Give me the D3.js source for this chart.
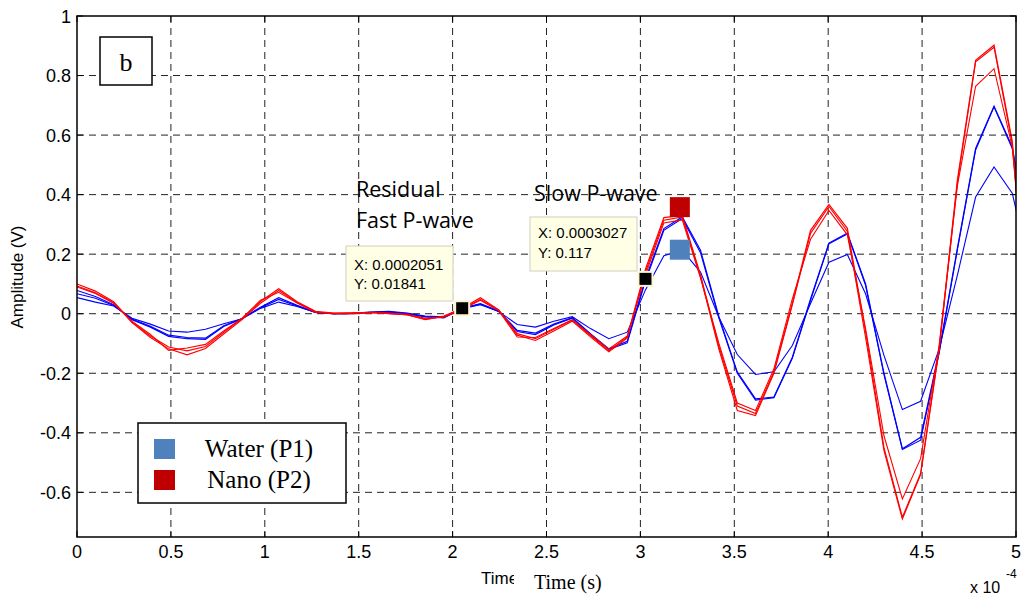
<!DOCTYPE html>
<html><head><meta charset="utf-8">
<script src="https://cdn.jsdelivr.net/npm/d3@7"></script>
<style>body{margin:0;background:#fff;} svg{display:block;}</style>
</head><body>
<svg id="c" width="1025" height="599"></svg>
<script>
// time in units of 1e-4 s
const times = [0,0.098,0.195,0.293,0.391,0.488,0.586,0.684,0.781,0.879,0.977,1.074,1.172,1.27,1.367,1.465,1.563,1.66,1.758,1.855,1.953,2.051,2.148,2.246,2.344,2.441,2.539,2.637,2.734,2.832,2.93,3.027,3.125,3.223,3.32,3.418,3.516,3.613,3.711,3.809,3.906,4.004,4.102,4.199,4.297,4.395,4.492,4.59,4.688,4.785,4.883,4.98,5.078];
const nano1 = [0.10,0.076,0.040,-0.028,-0.075,-0.112,-0.125,-0.110,-0.062,-0.017,0.041,0.084,0.040,0.008,0.002,0.003,0.005,0.0,-0.003,-0.02,-0.008,0.018,0.054,0.013,-0.067,-0.084,-0.052,-0.022,-0.073,-0.125,-0.078,0.15,0.323,0.33,0.13,-0.11,-0.31,-0.335,-0.195,0.035,0.28,0.367,0.287,-0.06,-0.45,-0.684,-0.537,-0.12,0.45,0.851,0.902,0.58,-0.15];
const nano2 = [0.093,0.07,0.037,-0.03,-0.08,-0.118,-0.138,-0.117,-0.068,-0.02,0.035,0.078,0.038,0.006,0.0,0.0,0.003,0.002,-0.004,-0.018,-0.01,0.016,0.048,0.012,-0.072,-0.09,-0.058,-0.025,-0.078,-0.128,-0.082,0.14,0.314,0.325,0.125,-0.12,-0.325,-0.342,-0.2,0.03,0.27,0.36,0.276,-0.08,-0.46,-0.69,-0.54,-0.125,0.44,0.846,0.895,0.57,-0.16];
const nano3 = [0.09,0.068,0.035,-0.025,-0.07,-0.123,-0.115,-0.103,-0.058,-0.015,0.045,0.072,0.036,0.004,0.001,0.002,0.004,0.001,-0.002,-0.015,-0.012,0.015,0.045,0.01,-0.078,-0.08,-0.05,-0.02,-0.07,-0.118,-0.075,0.13,0.305,0.315,0.12,-0.10,-0.30,-0.325,-0.185,0.05,0.25,0.347,0.265,-0.05,-0.41,-0.622,-0.487,-0.11,0.43,0.764,0.823,0.56,-0.1];
const water1 = [0.078,0.058,0.03,-0.02,-0.045,-0.076,-0.084,-0.086,-0.043,-0.017,0.022,0.054,0.028,0.005,0.0,0.0,0.005,0.006,0.0,-0.011,-0.012,0.018,0.034,0.009,-0.056,-0.065,-0.035,-0.013,-0.067,-0.118,-0.093,0.117,0.286,0.325,0.213,-0.01,-0.196,-0.286,-0.28,-0.146,0.05,0.237,0.271,0.10,-0.20,-0.454,-0.415,-0.13,0.22,0.555,0.697,0.56,0.21];
const water2 = [0.067,0.052,0.028,-0.018,-0.042,-0.072,-0.08,-0.082,-0.04,-0.016,0.02,0.048,0.026,0.004,0.0,0.001,0.004,0.005,0.0,-0.01,-0.014,0.017,0.03,0.008,-0.06,-0.07,-0.038,-0.015,-0.07,-0.12,-0.098,0.11,0.28,0.32,0.205,-0.015,-0.2,-0.29,-0.282,-0.15,0.045,0.235,0.268,0.095,-0.205,-0.456,-0.425,-0.135,0.215,0.55,0.695,0.555,0.2];
const water3 = [0.054,0.039,0.026,-0.015,-0.035,-0.058,-0.062,-0.052,-0.034,-0.017,0.018,0.039,0.024,0.004,0.0,0.001,0.006,0.008,0.002,-0.008,-0.01,0.018,0.032,0.007,-0.036,-0.045,-0.025,-0.01,-0.05,-0.084,-0.062,0.08,0.195,0.213,0.14,-0.012,-0.137,-0.204,-0.195,-0.107,0.034,0.173,0.199,0.067,-0.14,-0.322,-0.294,-0.12,0.13,0.392,0.493,0.405,0.135];

const xTicks = [0,0.5,1,1.5,2,2.5,3,3.5,4,4.5,5];
const xTickLabels = ["0","0.5","1","1.5","2","2.5","3","3.5","4","4.5","5"];
const yTicks = [-0.6,-0.4,-0.2,0,0.2,0.4,0.6,0.8,1];
const yTickLabels = ["-0.6","-0.4","-0.2","0","0.2","0.4","0.6","0.8","1"];

const dataTips = [{x:2.051, y:0.01841, lx:"X: 0.0002051", ly:"Y: 0.01841"},
                  {x:3.027, y:0.117, lx:"X: 0.0003027", ly:"Y: 0.117"}];
const peakMarks = [{x:3.21, y:0.358, c:"#c00000"},{x:3.21, y:0.215, c:"#4f81bd"}];
const legendItems = [{name:"Water (P1)", c:"#4f81bd"},{name:"Nano (P2)", c:"#c00000"}];

const L=77, R=1016, T=16, B=537;
const x = d3.scaleLinear().domain([0,5]).range([L,R]);
const y = d3.scaleLinear().domain([-0.75,1]).range([B,T]);
const svg = d3.select("#c");

svg.append("defs").append("clipPath").attr("id","clip")
  .append("rect").attr("x",L).attr("y",T).attr("width",R-L).attr("height",B-T);

// grid
const g = svg.append("g");
g.selectAll(".vg").data(xTicks.slice(1,-1)).enter().append("line")
  .attr("x1",d=>x(d)).attr("x2",d=>x(d)).attr("y1",T).attr("y2",B)
  .attr("stroke","#222").attr("stroke-width",1).attr("stroke-dasharray","7,5");
g.selectAll(".hg").data(yTicks.filter(v=>v<1)).enter().append("line")
  .attr("x1",L).attr("x2",R).attr("y1",d=>y(d)).attr("y2",d=>y(d))
  .attr("stroke","#222").attr("stroke-width",1).attr("stroke-dasharray","7,5");

// lines
const line = d3.line().x((d,i)=>x(times[i])).y(d=>y(d));
const series = [
  {v:water3,c:"#0000ff",w:1.1},{v:water2,c:"#0000ff",w:1.1},{v:water1,c:"#0000ff",w:1.2},
  {v:nano3,c:"#ff0000",w:1.1},{v:nano2,c:"#ff0000",w:1.1},{v:nano1,c:"#ff0000",w:1.2}];
const lg = svg.append("g").attr("clip-path","url(#clip)");
series.forEach(s=>{
  lg.append("path").attr("d",line(s.v)).attr("fill","none").attr("stroke",s.c).attr("stroke-width",s.w);
});

// frame
svg.append("rect").attr("x",L).attr("y",T).attr("width",R-L).attr("height",B-T)
  .attr("fill","none").attr("stroke","#000").attr("stroke-width",1.5);

// ticks (inside, both sides)
const tk = svg.append("g").attr("stroke","#000").attr("stroke-width",1);
xTicks.forEach(v=>{
  tk.append("line").attr("x1",x(v)).attr("x2",x(v)).attr("y1",B).attr("y2",B-6);
  tk.append("line").attr("x1",x(v)).attr("x2",x(v)).attr("y1",T).attr("y2",T+6);
});
yTicks.forEach(v=>{
  tk.append("line").attr("x1",L).attr("x2",L+6).attr("y1",y(v)).attr("y2",y(v));
  tk.append("line").attr("x1",R).attr("x2",R-6).attr("y1",y(v)).attr("y2",y(v));
});

// tick labels
const font = "'Liberation Sans', Arial, sans-serif";
svg.selectAll(".xl").data(xTicks).enter().append("text")
  .attr("x",d=>x(d)).attr("y",558).attr("text-anchor","middle")
  .attr("font-family",font).attr("font-size",18).attr("fill","#000")
  .text((d,i)=>xTickLabels[i]);
svg.selectAll(".yl").data(yTicks).enter().append("text")
  .attr("x",71).attr("y",d=>y(d)+6.5).attr("text-anchor","end")
  .attr("font-family",font).attr("font-size",18).attr("fill","#000")
  .text((d,i)=>yTickLabels[i]);

// exponent
svg.append("text").attr("x",970).attr("y",593).attr("font-family",font).attr("font-size",16).text("x 10");
svg.append("text").attr("x",1006).attr("y",578).attr("font-family",font).attr("font-size",12).text("-4");

// y label
svg.append("text").attr("transform","translate(23,277) rotate(-90)").attr("text-anchor","middle")
  .attr("font-family",font).attr("font-size",17).text("Amplitude (V)");

// x label (original, partially covered by the serif label)
svg.append("text").attr("x",481).attr("y",584).attr("font-family",font).attr("font-size",17).text("Time");
svg.append("rect").attr("x",514).attr("y",566).attr("width",100).attr("height",33).attr("fill","#fff");
svg.append("text").attr("x",534).attr("y",589).attr("font-family","'Liberation Serif','Times New Roman',serif")
  .attr("font-size",20).text("Time (s)");

// "b" box
svg.append("rect").attr("x",100).attr("y",37).attr("width",52).attr("height",48)
  .attr("fill","#fff").attr("stroke","#000").attr("stroke-width",1.5);
svg.append("text").attr("x",126).attr("y",71).attr("text-anchor","middle")
  .attr("font-family","'Liberation Serif',serif").attr("font-size",26).text("b");

// annotations
const afont = "'Open Sans', 'Noto Sans', sans-serif";
svg.append("text").attr("x",356).attr("y",197).attr("font-family",afont).attr("font-size",21.5).text("Residual");
svg.append("text").attr("x",356).attr("y",228).attr("font-family",afont).attr("font-size",21.5).text("Fast P-wave");
svg.append("text").attr("x",534).attr("y",201).attr("font-family",afont).attr("font-size",21.5).text("Slow P-wave");

// peak markers
svg.selectAll(".pm").data(peakMarks).enter().append("rect")
  .attr("x",d=>x(d.x)-10).attr("y",d=>y(d.y)-10).attr("width",20).attr("height",20).attr("fill",d=>d.c);

// data tips
const boxes = [{bx:346,by:246,bw:107,bh:55,tx:354,ty1:270,ty2:289},{bx:530,by:217,bw:107,bh:54,tx:538,ty1:238,ty2:258}];
dataTips.forEach((d,i)=>{
  const b = boxes[i];
  svg.append("rect").attr("x",b.bx).attr("y",b.by).attr("width",b.bw).attr("height",b.bh)
    .attr("fill","#ffffe6").attr("stroke","#cfcfbf").attr("stroke-width",1);
  svg.append("text").attr("x",b.tx).attr("y",b.ty1).attr("font-family",font).attr("font-size",15).text(d.lx);
  svg.append("text").attr("x",b.tx).attr("y",b.ty2).attr("font-family",font).attr("font-size",15).text(d.ly);
  svg.append("rect").attr("x",x(d.x)-7).attr("y",y(d.y)-7).attr("width",14).attr("height",14)
    .attr("fill","#000").attr("stroke","#fbf6d0").attr("stroke-width",2);
});

// legend
svg.append("rect").attr("x",138).attr("y",423).attr("width",208).attr("height",80)
  .attr("fill","#fff").attr("stroke","#000").attr("stroke-width",1.5);
legendItems.forEach((it,i)=>{
  svg.append("rect").attr("x",154).attr("y",439+i*31).attr("width",21).attr("height",20).attr("fill",it.c);
  svg.append("text").attr("x",259).attr("y",457+i*31).attr("text-anchor","middle")
    .attr("font-family","'Liberation Serif','Times New Roman',serif").attr("font-size",25).text(it.name);
});
</script>
</body></html>
